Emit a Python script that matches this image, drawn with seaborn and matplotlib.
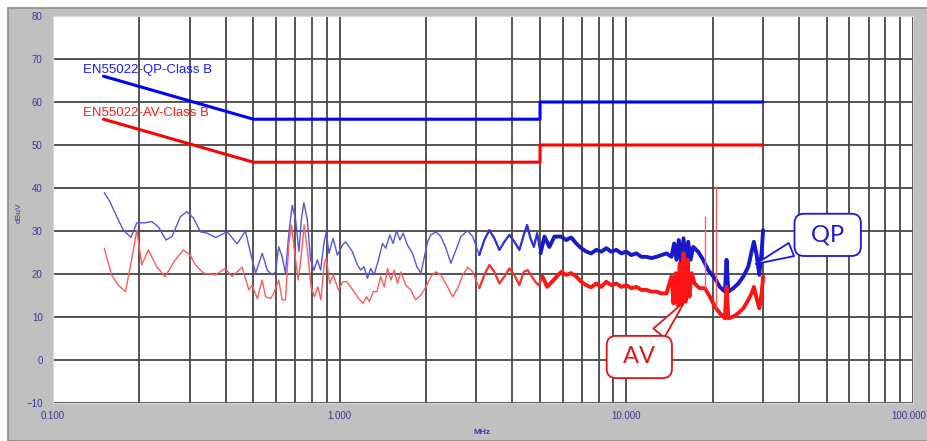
import numpy as np
import matplotlib
matplotlib.use("Agg")
import matplotlib.pyplot as plt
import matplotlib.transforms as mtransforms
import seaborn as sns
from matplotlib.patches import Rectangle
from matplotlib.ticker import FixedLocator, LogLocator, NullFormatter

# limit lines (EN55022 class B)
qp_limit_freq = [0.15, 0.5, 5.0, 5.0, 30.0]
qp_limit_level = [66, 56, 56, 60, 60]
av_limit_freq = [0.15, 0.5, 5.0, 5.0, 30.0]
av_limit_level = [56, 46, 46, 50, 50]

# quasi-peak trace (MHz, dBuV)
qp_freq = [0.151, 0.158, 0.167, 0.176, 0.187, 0.196, 0.210, 0.221, 0.233, 0.248,
           0.260, 0.278, 0.293, 0.309, 0.327, 0.345, 0.369, 0.405, 0.439, 0.469,
           0.489, 0.509, 0.537, 0.559, 0.582, 0.597, 0.613, 0.630, 0.647, 0.665,
           0.683, 0.702, 0.721, 0.736, 0.750, 0.771, 0.792, 0.813, 0.836, 0.858,
           0.881, 0.898, 0.918, 0.948, 0.982, 1.022, 1.05, 1.107, 1.153, 1.184,
           1.216, 1.25, 1.284, 1.318, 1.366, 1.41, 1.448, 1.496, 1.536, 1.579,
           1.622, 1.665, 1.725, 1.796, 1.859, 1.92, 1.971, 2.027, 2.08, 2.166,
           2.255, 2.348, 2.444, 2.544, 2.649, 2.796, 2.911, 3.07, 3.196, 3.327,
           3.464, 3.606, 3.754, 3.908, 4.069, 4.236, 4.387, 4.507, 4.63, 4.757,
           4.886, 5.02, 5.18, 5.39, 5.61, 5.93, 6.17, 6.42, 6.69, 6.96,
           7.25, 7.54, 7.85, 8.18, 8.51, 8.86, 9.23, 9.61, 10.0, 10.41,
           10.84, 11.28, 11.75, 12.23, 12.73, 13.26, 13.8, 14.37, 14.68, 14.96,
           15.24, 15.54, 15.83, 16.14, 16.44, 16.75, 17.11, 17.8, 18.53, 19.31,
           20.36, 21.19, 22.07, 22.37, 22.68, 23.61, 24.58, 25.59, 26.64, 27.35,
           27.86, 28.48, 29.1, 29.65, 30.0]
qp_level = [38.9, 36.8, 33.3, 30.2, 28.5, 31.9, 31.9, 32.2, 31.0, 27.9,
            28.7, 33.3, 34.5, 33.0, 29.8, 29.5, 28.5, 29.8, 27.0, 30.0,
            24.8, 20.2, 24.8, 20.9, 19.8, 20.5, 26.3, 24.0, 20.2, 29.5,
            36.0, 32.6, 25.2, 33.0, 36.6, 32.6, 23.3, 20.9, 23.3, 20.9,
            27.1, 29.8, 24.8, 28.3, 24.4, 26.7, 27.5, 25.2, 22.1, 20.9,
            21.7, 19.0, 21.3, 19.8, 23.3, 27.1, 26.0, 29.1, 27.1, 30.1,
            27.9, 29.5, 26.7, 24.8, 21.7, 20.2, 23.7, 27.5, 29.1, 29.8,
            28.7, 26.0, 22.5, 25.6, 28.7, 30.1, 28.7, 24.4, 27.9, 30.2,
            28.3, 25.6, 27.5, 29.1, 27.5, 25.6, 29.1, 31.4, 28.3, 26.3,
            29.5, 24.8, 28.7, 26.3, 28.7, 28.7, 27.9, 28.5, 27.1, 26.0,
            25.2, 24.8, 25.6, 25.2, 26.0, 25.2, 25.6, 24.8, 25.2, 24.4,
            24.8, 24.0, 24.0, 23.7, 24.0, 24.4, 24.8, 24.0, 27.1, 23.3,
            27.9, 22.5, 28.3, 22.5, 27.5, 23.3, 26.3, 25.2, 23.3, 20.9,
            19.0, 17.0, 15.9, 23.3, 15.9, 16.7, 17.8, 19.4, 21.7, 25.2,
            27.5, 24.4, 19.8, 25.2, 30.2]

# average trace (MHz, dBuV)
av_freq = [0.151, 0.160, 0.169, 0.179, 0.188, 0.196, 0.204, 0.215, 0.230, 0.246,
           0.267, 0.285, 0.301, 0.314, 0.335, 0.369, 0.399, 0.421, 0.457, 0.482,
           0.495, 0.516, 0.537, 0.551, 0.574, 0.589, 0.613, 0.630, 0.647, 0.665,
           0.679, 0.698, 0.717, 0.736, 0.752, 0.774, 0.795, 0.817, 0.839, 0.860,
           0.884, 0.898, 0.923, 0.95, 0.99, 1.027, 1.06, 1.122, 1.163, 1.206,
           1.24, 1.27, 1.31, 1.35, 1.39, 1.43, 1.47, 1.51, 1.55, 1.59,
           1.635, 1.70, 1.77, 1.84, 1.92, 2.0, 2.08, 2.166, 2.255, 2.38,
           2.48, 2.58, 2.69, 2.796, 2.911, 3.07, 3.196, 3.327, 3.464, 3.606,
           3.754, 3.908, 4.069, 4.236, 4.387, 4.53, 4.68, 4.81, 4.94, 5.1,
           5.3, 5.5, 5.72, 5.93, 6.17, 6.42, 6.69, 6.96, 7.25, 7.54,
           7.85, 8.18, 8.51, 8.86, 9.23, 9.61, 10.0, 10.41, 10.84, 11.28,
           11.75, 12.23, 12.73, 13.26, 13.8, 14.37, 14.6, 14.85, 15.1, 15.35,
           15.6, 15.83, 16.1, 16.35, 16.6, 16.9, 17.3, 18.0, 18.8, 19.56,
           20.36, 21.19, 22.07, 22.37, 22.68, 23.61, 24.58, 25.59, 26.64, 27.35,
           27.86, 28.48, 29.1, 29.65, 30.0]
av_level = [26.0, 19.8, 17.4, 15.9, 23.3, 30.2, 22.1, 25.6, 21.7, 19.4,
            23.3, 25.6, 24.4, 22.1, 20.2, 19.8, 21.3, 19.4, 21.6, 16.3,
            17.4, 14.3, 18.6, 14.7, 14.3, 15.5, 18.6, 14.0, 14.0, 27.1,
            31.4, 24.4, 18.6, 24.8, 31.4, 24.8, 17.0, 14.7, 17.0, 14.0,
            22.5, 23.7, 17.8, 19.8, 16.3, 18.2, 18.2, 15.9, 14.3, 13.2,
            14.7, 13.6, 15.9, 15.9, 19.4, 17.0, 21.3, 18.6, 20.9, 17.8,
            20.5, 17.4, 16.3, 14.0, 15.1, 17.0, 19.4, 20.5, 19.8, 17.0,
            14.7, 16.7, 19.8, 21.6, 20.5, 16.7, 19.8, 22.1, 20.5, 17.8,
            19.4, 21.3, 19.8, 17.4, 20.5, 20.9, 19.4, 18.2, 17.4, 19.4,
            17.0, 18.2, 19.4, 20.5, 19.8, 20.2, 19.4, 18.2, 17.4, 16.9,
            17.8, 17.0, 18.2, 17.4, 17.8, 17.0, 17.4, 16.7, 17.0, 16.3,
            16.3, 15.9, 15.9, 15.5, 15.5, 19.4, 13.2, 20.2, 12.8, 22.5,
            13.2, 24.8, 13.6, 23.3, 14.7, 20.2, 17.8, 16.7, 16.7, 14.7,
            12.4, 10.9, 9.7, 17.0, 9.7, 10.1, 10.9, 12.0, 14.0, 15.5,
            17.0, 14.3, 12.0, 15.5, 19.4]

# narrow AV spikes
spike_freq = [18.8, 20.6]
spike_low = [16.7, 12.0]
spike_high = [33.5, 40.5]

navy = "#3a3a9c"
grid_c = "#474747"

sns.set_style("white")
plt.rcParams["font.family"] = ["Liberation Sans", "DejaVu Sans"]

fig = plt.figure(figsize=(9.28, 4.41), dpi=100)
fig.patch.set_facecolor("white")
fig.add_artist(Rectangle((8 / 928, 0), 1, (441 - 8) / 441, transform=fig.transFigure,
                         fc="#c0c0c0", ec="#8c8c8c", lw=1.2, zorder=0))

ax = fig.add_axes([53 / 928, 38 / 441, 860 / 928, 387 / 441])
ax.set_facecolor("white")
ax.set_xscale("log")
ax.set_xlim(0.1, 100)
ax.set_ylim(-10, 80)

ax.xaxis.set_major_locator(FixedLocator([0.1, 1, 10, 100]))
ax.xaxis.set_minor_locator(LogLocator(base=10, subs=np.arange(2, 10)))
ax.xaxis.set_minor_formatter(NullFormatter())
ax.set_xticklabels(["0.100", "1.000", "10.000", "100.000"])
ax.set_yticks(np.arange(-10, 81, 10))
ax.grid(which="both", axis="x", color=grid_c, lw=1.3)
ax.grid(which="major", axis="y", color=grid_c, lw=1.3)
ax.tick_params(axis="both", which="major", colors=navy, labelsize=7, length=4, width=1, direction="out")
ax.tick_params(axis="x", which="minor", length=0)
ax.tick_params(axis="x", pad=2)
# keep the last frequency label inside the frame
last = ax.get_xticklabels()[-1]
last.set_transform(last.get_transform() + mtransforms.ScaledTranslation(-4 / 100, 0, fig.dpi_scale_trans))
for s in ax.spines.values():
    s.set_color("#d8d8d8")

# measured traces: thin line for the whole sweep, heavier band in the dense part
sns.lineplot(x=qp_freq, y=qp_level, ax=ax, color="#5454e2", lw=1.0, estimator=None, sort=False, zorder=3)
sns.lineplot(x=av_freq, y=av_level, ax=ax, color="#ff5a5a", lw=1.0, estimator=None, sort=False, zorder=3)
qf, ql = np.array(qp_freq), np.array(qp_level)
af, al = np.array(av_freq), np.array(av_level)
m = qf >= 3.0
sns.lineplot(x=qf[m], y=ql[m], ax=ax, color="#3030d8", lw=1.6, estimator=None, sort=False, zorder=3)
m = af >= 3.0
sns.lineplot(x=af[m], y=al[m], ax=ax, color="#ff3030", lw=1.6, estimator=None, sort=False, zorder=3)
m = qf >= 5.0
sns.lineplot(x=qf[m], y=ql[m], ax=ax, color="#1818cc", lw=2.8, estimator=None, sort=False, zorder=3)
m = af >= 5.0
sns.lineplot(x=af[m], y=al[m], ax=ax, color="#ff1414", lw=2.8, estimator=None, sort=False, zorder=3)
ax.vlines(spike_freq, spike_low, spike_high, color="#ff6060", lw=1.0, zorder=3)

# limit lines
sns.lineplot(x=qp_limit_freq, y=qp_limit_level, ax=ax, color="#0000ff", lw=2.2, estimator=None, sort=False, zorder=4)
sns.lineplot(x=av_limit_freq, y=av_limit_level, ax=ax, color="#ff0000", lw=2.2, estimator=None, sort=False, zorder=4)

ax.text(0.127, 67.4, "EN55022-QP-Class B", color="#1a1aff", fontsize=9.5, va="center", ha="left", zorder=5)
ax.text(0.127, 57.4, "EN55022-AV-Class B", color="#ff1a1a", fontsize=9.5, va="center", ha="left", zorder=5)

ax.set_xlabel("")
ax.set_ylabel("")
fig.text(482 / 928, 1 - 432 / 441, "MHz", color=navy, fontsize=6, fontweight="bold", ha="center", va="center")
fig.text(19 / 928, 1 - 213 / 441, "dBuV", color=navy, fontsize=6, rotation=90, ha="center", va="center")

# callouts
ax.annotate(" QP ", xy=(27.7, 22.1), xytext=(50.4, 29.1), ha="center", va="center",
            fontsize=17, color="#1a1ad8", family=["Lato", "DejaVu Sans"], zorder=6,
            bbox=dict(boxstyle="round,pad=0.45,rounding_size=0.4", fc="white", ec="#1a1ad8", lw=1.3),
            arrowprops=dict(arrowstyle="wedge,tail_width=0.6,shrink_factor=0.5", fc="white", ec="#1a1ad8", lw=1.3))
ax.annotate(" AV ", xy=(16.2, 14.1), xytext=(11.1, 0.7), ha="center", va="center",
            fontsize=17, color="#e01414", family=["Lato", "DejaVu Sans"], zorder=6,
            bbox=dict(boxstyle="round,pad=0.45,rounding_size=0.4", fc="white", ec="#e01414", lw=1.3),
            arrowprops=dict(arrowstyle="wedge,tail_width=0.6,shrink_factor=0.5", fc="white", ec="#e01414", lw=1.3))

fig.savefig("out.png", dpi=100)
